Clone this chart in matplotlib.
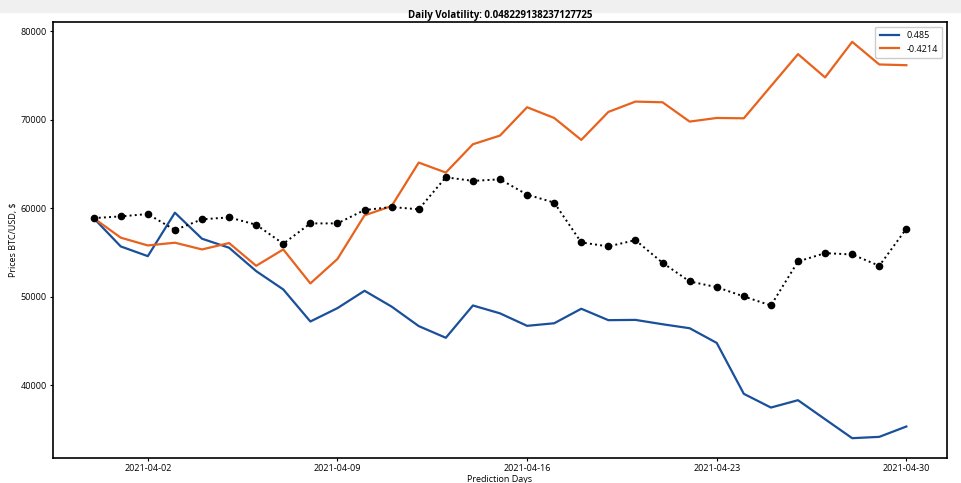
import matplotlib.pyplot as plt
import matplotlib.dates as mdates
import numpy as np
import pandas as pd
from matplotlib.patches import Rectangle

# dias de prediccion
fechas = pd.date_range('2021-03-31', '2021-04-30', freq='D')

# escenario con volatilidad positiva
sim_pos = [58900, 55700, 54600, 59510, 56570, 55550, 52910, 50840, 47220, 48730,
           50690, 48900, 46700, 45380, 49030, 48140, 46730, 47020, 48660, 47370,
           47400, 46910, 46460, 44800, 39050, 37500, 38330, 36180, 34040, 34190,
           35360]

# escenario con volatilidad negativa
sim_neg = [58900, 56690, 55810, 56120, 55360, 56080, 53510, 55360, 51520, 54280,
           59210, 60260, 65170, 64040, 67240, 68220, 71420, 70210, 67730, 70890,
           72060, 71980, 69800, 70210, 70170, 73800, 77420, 74790, 78810, 76250,
           76170]

# precio real
precio = [58900, 59090, 59360, 57550, 58760, 58980, 58150, 56000, 58300, 58300,
          59810, 60150, 59890, 63510, 63100, 63280, 61550, 60650, 56150, 55700,
          56410, 53850, 51740, 51100, 50050, 49030, 54000, 54940, 54790, 53510,
          57700]

etiquetas = ['0.485', '-0.4214']
volatilidad = 0.048229138237127725

plt.rcParams['font.family'] = ['Open Sans', 'DejaVu Sans']
plt.rcParams['font.size'] = 6.5

fig = plt.figure(figsize=(9.62, 4.83), dpi=100)
ax = fig.add_axes([53/962, 1-458/483, (947-53)/962, (458-22)/483])

ax.plot(fechas, sim_pos, color='#1a4f9a', lw=1.6, label=etiquetas[0])
ax.plot(fechas, sim_neg, color='#e8621d', lw=1.6, label=etiquetas[1])
ax.plot(fechas, precio, 'k:', marker='o', ms=4.5, lw=1.4)

ax.set_xticks(pd.to_datetime(['2021-04-02', '2021-04-09', '2021-04-16', '2021-04-23', '2021-04-30']))
ax.xaxis.set_major_formatter(mdates.DateFormatter('%Y-%m-%d'))
ax.set_yticks([40000, 50000, 60000, 70000, 80000])
ax.tick_params(length=2.5, width=0.8, pad=2)
for s in ax.spines.values():
    s.set_linewidth(1.2)

ax.set_title('Daily Volatility: ' + str(volatilidad), fontsize=7, fontweight='bold', pad=3)
ax.set_xlabel('Prediction Days', fontsize=6.5, labelpad=1)
ax.set_ylabel('Prices BTC/USD, $', fontsize=6.5, labelpad=2)
ax.legend(loc='upper right', fontsize=6.5, handlelength=2.2, borderpad=0.5, framealpha=1)

# franja gris superior de la captura
fig.add_artist(Rectangle((0, 1-12/483), 1, 12/483, transform=fig.transFigure,
                         color='#f0f0f0', zorder=-1))

fig.savefig('out.png', dpi=100)
